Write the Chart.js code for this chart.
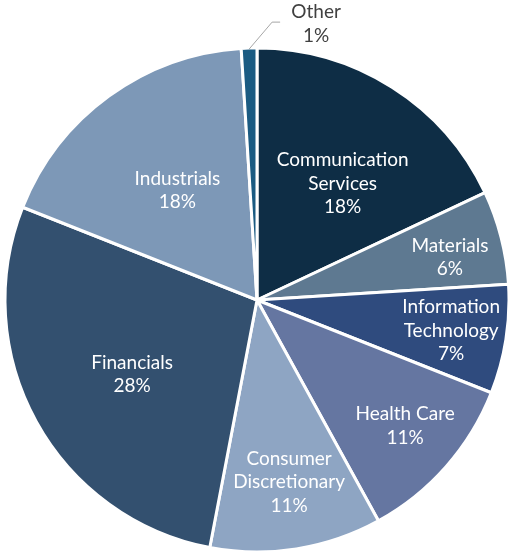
<!DOCTYPE html>
<html>
<head>
<meta charset="utf-8">
<script src="https://cdn.jsdelivr.net/npm/chart.js@4.4.1/dist/chart.umd.min.js"></script>
<style>
  html, body { margin: 0; padding: 0; background: #ffffff; }
  #wrap { width: 510px; height: 554px; }
</style>
</head>
<body>
<div id="wrap"><canvas id="sector-pie" width="510" height="554"></canvas></div>
<script>
// sectors, clockwise from 12 o'clock
var sectors = [
    ['Communication', 'Services'],
    ['Materials'],
    ['Information', 'Technology'],
    ['Health Care'],
    ['Consumer', 'Discretionary'],
    ['Financials'],
    ['Industrials'],
    ['Other']
];
var weights = [18, 6, 7, 11, 11, 28, 18, 1];
var sectorColors = ['#0e2d45', '#5e7991', '#2f4b7e', '#6576a1', '#8ea5c3', '#33506f', '#7d98b7', '#1b5b82'];

// label placement: fraction of radius, angle nudge (deg); null = outside with leader line
var labelRadius = [0.573, 0.784, 0.78, 0.772, 0.733, 0.577, 0.537, null];
var labelNudge = [4, 2, 0, -1, -1, -2, 0, 0];

var ctx = document.getElementById('sector-pie').getContext('2d');

var sliceLabels = {
    id: 'sliceLabels',
    afterDatasetsDraw: function (chart) {
        var c = chart.ctx;
        var meta = chart.getDatasetMeta(0);
        var lineH = 23.5;
        c.save();
        c.font = '19px Lato, "Open Sans", sans-serif';
        c.textAlign = 'center';
        c.textBaseline = 'middle';
        meta.data.forEach(function (arc, i) {
            var p = arc.getProps(['x', 'y', 'startAngle', 'endAngle', 'outerRadius'], true);
            var mid = (p.startAngle + p.endAngle) / 2 + labelNudge[i] * Math.PI / 180;
            var lines = sectors[i].concat([weights[i] + '%']);
            var cx, cy;
            if (labelRadius[i] !== null) {
                cx = p.x + Math.cos(mid) * p.outerRadius * labelRadius[i];
                cy = p.y + Math.sin(mid) * p.outerRadius * labelRadius[i];
                c.fillStyle = '#ffffff';
            } else {
                // leader line from the rim, up and right, then a short flat run
                var ex = p.x + Math.cos(mid) * (p.outerRadius - 1);
                var ey = p.y + Math.sin(mid) * (p.outerRadius - 1);
                c.strokeStyle = '#a6a6a6';
                c.lineWidth = 1;
                c.beginPath();
                c.moveTo(ex, ey);
                c.lineTo(ex + 23, ey - 27);
                c.lineTo(ex + 31, ey - 27);
                c.stroke();
                cx = ex + 67;
                cy = ey - 25;
                c.fillStyle = '#404040';
            }
            var top = cy - (lines.length - 1) * lineH / 2;
            lines.forEach(function (t, k) {
                c.fillText(t, cx, top + k * lineH);
            });
        });
        c.restore();
    }
};

new Chart(ctx, {
    type: 'pie',
    data: {
        labels: sectors,
        datasets: [{
            data: weights,
            backgroundColor: sectorColors,
            borderColor: '#ffffff',
            borderWidth: 3
        }]
    },
    options: {
        responsive: false,
        animation: false,
        devicePixelRatio: 1,
        radius: 252,
        layout: { padding: { left: 4, right: 0, top: 46, bottom: 0 } },
        plugins: {
            legend: { display: false },
            tooltip: { enabled: false }
        }
    },
    plugins: [sliceLabels]
});
</script>
</body>
</html>
